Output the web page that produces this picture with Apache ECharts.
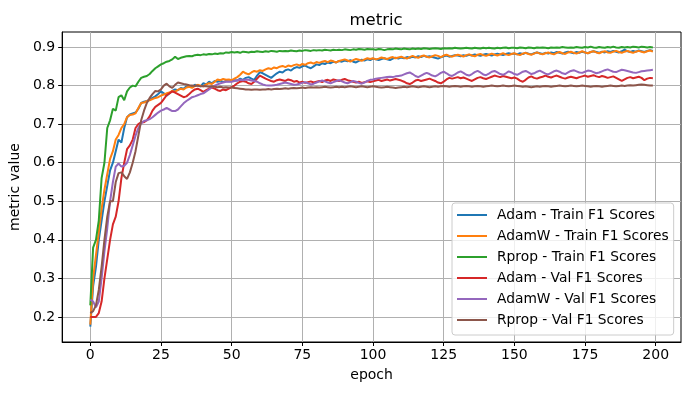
<!DOCTYPE html>
<html><head><meta charset="utf-8">
<script src="https://cdn.jsdelivr.net/npm/echarts@6/dist/echarts.min.js"></script>
<style>html,body{margin:0;padding:0;background:#fff}#c{width:691px;height:393px}</style>
</head><body><div id="c"></div>
<script>
const seriesNames = ["Adam - Train F1 Scores","AdamW - Train F1 Scores","Rprop - Train F1 Scores","Adam - Val F1 Scores","AdamW - Val F1 Scores","Rprop - Val F1 Scores"];
const xTicks = [0,25,50,75,100,125,150,175,200];
const yTicks = [0.2,0.3,0.4,0.5,0.6,0.7,0.8,0.9];

const adamTrain = [
0.175,0.280,0.330,0.400,0.450,0.500,0.540,0.580,0.600,0.630,
0.660,0.652,0.690,0.718,0.725,0.728,0.730,0.740,0.755,0.758,
0.760,0.763,0.768,0.772,0.778,0.785,0.780,0.774,0.780,0.786,
0.790,0.788,0.794,0.792,0.798,0.800,0.797,0.802,0.800,0.798,
0.806,0.803,0.810,0.806,0.812,0.810,0.813,0.809,0.812,0.811,
0.812,0.814,0.813,0.818,0.815,0.820,0.822,0.818,0.815,0.826,
0.835,0.832,0.828,0.824,0.820,0.826,0.832,0.836,0.834,0.840,
0.842,0.839,0.845,0.848,0.846,0.850,0.852,0.848,0.845,0.850,
0.855,0.853,0.858,0.856,0.860,0.858,0.862,0.860,0.864,0.862,
0.865,0.863,0.866,0.862,0.860,0.864,0.867,0.865,0.868,0.866,
0.870,0.868,0.866,0.869,0.871,0.868,0.866,0.870,0.872,0.870,
0.873,0.871,0.874,0.872,0.875,0.873,0.876,0.874,0.877,0.875,
0.876,0.874,0.872,0.870,0.873,0.876,0.878,0.875,0.877,0.879,
0.878,0.876,0.879,0.877,0.880,0.878,0.881,0.879,0.877,0.880,
0.882,0.880,0.878,0.881,0.883,0.881,0.879,0.882,0.884,0.882,
0.883,0.881,0.884,0.882,0.885,0.883,0.881,0.884,0.886,0.884,
0.882,0.885,0.883,0.886,0.884,0.887,0.885,0.883,0.886,0.888,
0.886,0.884,0.887,0.885,0.888,0.886,0.884,0.887,0.889,0.887,
0.885,0.888,0.886,0.889,0.887,0.890,0.888,0.886,0.889,0.893,
0.889,0.887,0.890,0.888,0.891,0.889,0.887,0.890,0.892,0.890];

const adamwTrain = [
0.180,0.300,0.360,0.420,0.480,0.530,0.570,0.610,0.630,0.660,
0.672,0.690,0.700,0.718,0.724,0.725,0.728,0.742,0.755,0.756,
0.760,0.762,0.765,0.768,0.770,0.774,0.777,0.780,0.782,0.786,
0.784,0.789,0.792,0.790,0.795,0.797,0.794,0.799,0.802,0.800,
0.798,0.803,0.806,0.804,0.810,0.816,0.814,0.817,0.815,0.816,
0.814,0.818,0.822,0.828,0.836,0.832,0.829,0.834,0.838,0.836,
0.840,0.838,0.842,0.845,0.843,0.847,0.845,0.849,0.851,0.848,
0.852,0.850,0.853,0.855,0.852,0.856,0.854,0.858,0.860,0.857,
0.861,0.859,0.862,0.864,0.861,0.865,0.863,0.860,0.864,0.866,
0.868,0.865,0.862,0.866,0.869,0.867,0.864,0.868,0.871,0.869,
0.871,0.868,0.870,0.873,0.871,0.869,0.872,0.874,0.871,0.873,
0.875,0.872,0.870,0.874,0.877,0.874,0.872,0.876,0.878,0.875,
0.873,0.876,0.879,0.877,0.874,0.878,0.880,0.877,0.875,0.878,
0.880,0.878,0.875,0.879,0.881,0.878,0.876,0.880,0.882,0.879,
0.877,0.880,0.883,0.880,0.878,0.881,0.884,0.881,0.879,0.882,
0.884,0.881,0.879,0.883,0.885,0.882,0.880,0.883,0.886,0.883,
0.881,0.884,0.886,0.883,0.881,0.885,0.887,0.884,0.882,0.886,
0.888,0.885,0.883,0.886,0.889,0.886,0.884,0.887,0.889,0.886,
0.884,0.887,0.889,0.886,0.885,0.888,0.890,0.887,0.885,0.888,
0.890,0.887,0.885,0.888,0.890,0.888,0.886,0.889,0.891,0.888];

const rpropTrain = [
0.230,0.380,0.400,0.450,0.560,0.600,0.690,0.710,0.740,0.735,
0.770,0.775,0.762,0.785,0.795,0.800,0.798,0.810,0.820,0.823,
0.825,0.830,0.838,0.845,0.850,0.855,0.858,0.862,0.864,0.868,
0.875,0.869,0.872,0.874,0.876,0.877,0.876,0.879,0.880,0.879,
0.881,0.880,0.882,0.881,0.883,0.882,0.884,0.883,0.886,0.885,
0.887,0.886,0.887,0.885,0.888,0.887,0.886,0.888,0.887,0.889,
0.888,0.887,0.889,0.888,0.890,0.889,0.888,0.890,0.889,0.890,
0.889,0.891,0.890,0.889,0.891,0.890,0.892,0.891,0.890,0.892,
0.891,0.892,0.891,0.893,0.892,0.891,0.893,0.892,0.893,0.892,
0.894,0.893,0.892,0.894,0.893,0.895,0.894,0.893,0.895,0.894,
0.894,0.893,0.895,0.894,0.892,0.894,0.895,0.894,0.896,0.895,
0.894,0.896,0.895,0.894,0.896,0.895,0.896,0.895,0.897,0.896,
0.895,0.896,0.897,0.896,0.895,0.897,0.896,0.897,0.896,0.898,
0.897,0.896,0.897,0.898,0.897,0.896,0.898,0.897,0.896,0.898,
0.897,0.898,0.897,0.896,0.898,0.897,0.898,0.899,0.897,0.898,
0.898,0.897,0.899,0.898,0.897,0.899,0.898,0.897,0.899,0.898,
0.899,0.898,0.897,0.899,0.898,0.899,0.898,0.900,0.899,0.898,
0.899,0.898,0.900,0.899,0.898,0.900,0.899,0.901,0.899,0.898,
0.900,0.899,0.898,0.900,0.899,0.901,0.899,0.898,0.900,0.899,
0.900,0.899,0.901,0.900,0.899,0.901,0.900,0.899,0.900,0.899];

const adamVal = [
0.200,0.200,0.200,0.210,0.240,0.300,0.350,0.400,0.440,0.460,
0.500,0.560,0.600,0.635,0.645,0.660,0.690,0.700,0.705,0.705,
0.710,0.720,0.735,0.745,0.750,0.755,0.765,0.775,0.780,0.785,
0.782,0.778,0.774,0.770,0.772,0.778,0.785,0.790,0.792,0.788,
0.784,0.788,0.792,0.795,0.792,0.788,0.786,0.790,0.788,0.792,
0.796,0.800,0.806,0.810,0.812,0.810,0.806,0.804,0.810,0.818,
0.826,0.822,0.818,0.815,0.812,0.810,0.814,0.816,0.814,0.812,
0.816,0.814,0.810,0.812,0.808,0.810,0.807,0.809,0.811,0.808,
0.810,0.812,0.809,0.813,0.815,0.812,0.816,0.814,0.812,0.815,
0.817,0.814,0.812,0.810,0.808,0.810,0.807,0.809,0.811,0.809,
0.811,0.813,0.815,0.812,0.814,0.816,0.813,0.815,0.817,0.815,
0.813,0.810,0.806,0.804,0.808,0.813,0.815,0.812,0.814,0.816,
0.818,0.815,0.812,0.808,0.806,0.810,0.816,0.820,0.818,0.820,
0.822,0.819,0.821,0.818,0.815,0.812,0.816,0.820,0.822,0.819,
0.817,0.820,0.823,0.826,0.824,0.822,0.825,0.823,0.821,0.819,
0.821,0.818,0.813,0.810,0.815,0.821,0.824,0.820,0.818,0.821,
0.823,0.826,0.823,0.821,0.824,0.826,0.823,0.820,0.818,0.821,
0.823,0.821,0.819,0.822,0.824,0.826,0.823,0.825,0.827,0.824,
0.822,0.825,0.823,0.820,0.822,0.824,0.820,0.816,0.812,0.816,
0.820,0.822,0.819,0.821,0.823,0.820,0.814,0.818,0.820,0.819];

const adamwVal = [
0.245,0.240,0.225,0.240,0.300,0.370,0.430,0.500,0.550,0.590,
0.598,0.590,0.592,0.600,0.620,0.645,0.670,0.690,0.702,0.708,
0.710,0.713,0.718,0.724,0.730,0.735,0.738,0.742,0.738,0.734,
0.734,0.738,0.746,0.754,0.760,0.765,0.770,0.772,0.775,0.778,
0.780,0.785,0.790,0.796,0.800,0.803,0.806,0.808,0.810,0.810,
0.810,0.812,0.814,0.815,0.814,0.816,0.815,0.813,0.812,0.810,
0.806,0.803,0.801,0.800,0.800,0.801,0.802,0.804,0.806,0.808,
0.806,0.804,0.802,0.803,0.805,0.807,0.809,0.806,0.803,0.805,
0.808,0.811,0.813,0.811,0.808,0.806,0.809,0.812,0.814,0.811,
0.808,0.806,0.809,0.812,0.810,0.807,0.805,0.808,0.812,0.815,
0.816,0.818,0.819,0.820,0.821,0.822,0.823,0.822,0.824,0.825,
0.826,0.829,0.832,0.834,0.830,0.825,0.822,0.826,0.830,0.833,
0.830,0.826,0.824,0.828,0.833,0.836,0.832,0.827,0.825,0.829,
0.834,0.837,0.833,0.828,0.826,0.830,0.835,0.838,0.834,0.829,
0.827,0.831,0.836,0.838,0.834,0.830,0.828,0.832,0.837,0.834,
0.830,0.828,0.832,0.836,0.838,0.834,0.830,0.832,0.836,0.839,
0.835,0.831,0.829,0.833,0.837,0.839,0.836,0.832,0.830,0.834,
0.838,0.840,0.837,0.834,0.833,0.836,0.839,0.838,0.835,0.832,
0.834,0.837,0.840,0.842,0.839,0.836,0.835,0.838,0.841,0.840,
0.838,0.836,0.834,0.833,0.835,0.837,0.838,0.839,0.840,0.841];

const rpropVal = [
0.210,0.215,0.230,0.270,0.330,0.400,0.460,0.500,0.500,0.550,
0.573,0.575,0.565,0.558,0.575,0.600,0.630,0.670,0.710,0.735,
0.755,0.768,0.778,0.786,0.785,0.790,0.800,0.805,0.798,0.794,
0.802,0.808,0.806,0.804,0.803,0.801,0.800,0.799,0.800,0.798,
0.799,0.798,0.797,0.798,0.797,0.796,0.797,0.795,0.796,0.795,
0.795,0.794,0.793,0.792,0.791,0.790,0.790,0.789,0.790,0.790,
0.789,0.790,0.790,0.791,0.790,0.791,0.792,0.791,0.792,0.793,
0.792,0.793,0.794,0.793,0.794,0.795,0.794,0.795,0.796,0.795,
0.796,0.795,0.796,0.797,0.796,0.795,0.796,0.797,0.796,0.797,
0.796,0.797,0.798,0.797,0.796,0.797,0.798,0.797,0.796,0.797,
0.798,0.797,0.796,0.795,0.796,0.797,0.796,0.795,0.794,0.795,
0.796,0.797,0.796,0.797,0.798,0.797,0.796,0.797,0.798,0.797,
0.796,0.797,0.798,0.797,0.798,0.799,0.798,0.797,0.798,0.799,
0.798,0.797,0.798,0.799,0.798,0.797,0.798,0.799,0.798,0.797,
0.798,0.799,0.800,0.799,0.798,0.799,0.800,0.799,0.798,0.799,
0.800,0.799,0.798,0.797,0.798,0.797,0.796,0.797,0.798,0.797,
0.798,0.799,0.798,0.797,0.798,0.799,0.800,0.799,0.798,0.799,
0.800,0.799,0.798,0.799,0.800,0.799,0.798,0.797,0.798,0.799,
0.798,0.797,0.798,0.799,0.800,0.799,0.798,0.799,0.800,0.799,
0.800,0.801,0.800,0.801,0.802,0.803,0.802,0.801,0.800,0.800];

const allValues = [adamTrain, adamwTrain, rpropTrain, adamVal, adamwVal, rpropVal];
const colors = ['#1f77b4','#ff7f0e','#2ca02c','#d62728','#9467bd','#8c564b'];
const FONT = 'DejaVu Sans';

const chart = echarts.init(document.getElementById('c'), null, {renderer:'canvas'});
chart.setOption({
  animation: false,
  backgroundColor: '#fff',
  color: colors,
  textStyle: {fontFamily: FONT},
  title: {
    text: 'metric', left: 371, top: 7, textAlign: 'center',
    textStyle: {fontFamily: FONT, fontSize: 16.5, fontWeight: 'normal', color: '#000'}
  },
  grid: {left: 61, top: 32, width: 620, height: 310, show: true, borderColor: '#000', borderWidth: 1, backgroundColor: 'transparent'},
  legend: {
    orient: 'vertical', left: 452, top: 203,
    padding: [5, 5, 8, 4], itemWidth: 30, itemHeight: 14, itemGap: 7,
    backgroundColor: 'rgba(255,255,255,0.8)', borderColor: '#cccccc', borderWidth: 1, borderRadius: 3,
    itemStyle: {opacity: 0},
    lineStyle: {width: 2},
    textStyle: {fontFamily: FONT, fontSize: 13.8, color: '#000', padding: [0,0,0,5]},
    data: seriesNames
  },
  xAxis: {
    type: 'value', min: -9.95, max: 208.95,
    name: 'epoch', nameLocation: 'middle', nameGap: 26,
    nameTextStyle: {fontFamily: FONT, fontSize: 14, color: '#000'},
    axisLine: {onZero: false, lineStyle: {color: '#000', width: 1}},
    axisTick: {show: true, length: 4, lineStyle: {color: '#000'}, customValues: xTicks},
    axisLabel: {customValues: xTicks, fontFamily: FONT, fontSize: 14, color: '#000', margin: 6},
    splitLine: {show: true, lineStyle: {color: '#b0b0b0', width: 1}}
  },
  yAxis: {
    type: 'value', min: 0.135, max: 0.939,
    name: 'metric value', nameLocation: 'middle', nameGap: 37,
    nameTextStyle: {fontFamily: FONT, fontSize: 14, color: '#000'},
    axisLine: {show: true, onZero: false, lineStyle: {color: '#000', width: 1}},
    axisTick: {show: true, length: 4, lineStyle: {color: '#000'}, customValues: yTicks},
    axisLabel: {customValues: yTicks, fontFamily: FONT, fontSize: 14, color: '#000', margin: 7,
      formatter: v => v.toFixed(1)},
    splitLine: {show: true, lineStyle: {color: '#b0b0b0', width: 1}}
  },
  series: seriesNames.map((n, k) => ({
    name: n, type: 'line', symbol: 'none', showSymbol: false,
    lineStyle: {width: 2, color: colors[k]}, itemStyle: {color: colors[k]},
    data: allValues[k].map((v, i) => [i, v])
  }))
});
</script></body></html>
